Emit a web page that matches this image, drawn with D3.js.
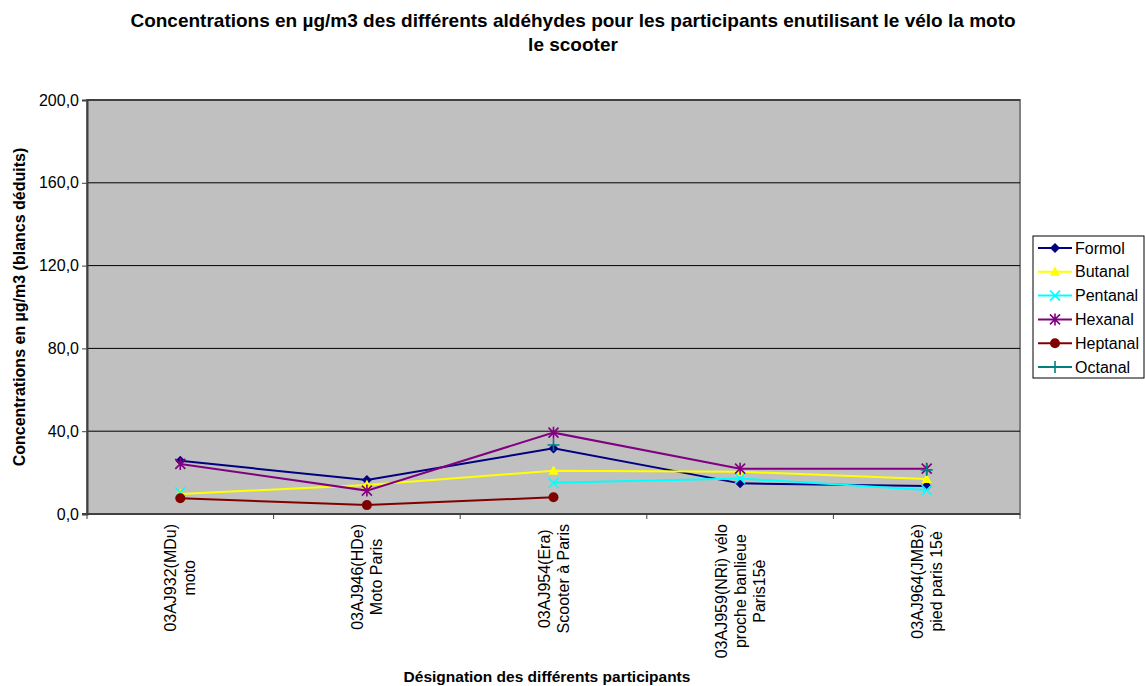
<!DOCTYPE html>
<html>
<head>
<meta charset="utf-8">
<script src="https://cdn.jsdelivr.net/npm/d3@7"></script>
<style>
  body { margin: 0; background: #fff; }
  svg { font-family: Arial, "Liberation Sans", sans-serif; }
</style>
</head>
<body>
<svg id="chart" width="1145" height="686"></svg>
<script>
// categories (participants), each label broken into lines like the original
var categories = ['03AJ932', '03AJ946', '03AJ954', '03AJ959', '03AJ964'];
var categoryLines = [
  ['03AJ932(MDu)', 'moto'],
  ['03AJ946(HDe)', 'Moto Paris'],
  ['03AJ954(Era)', 'Scooter à Paris'],
  ['03AJ959(NRi) vélo', 'proche banlieue', 'Paris15è'],
  ['03AJ964(JMBè)', 'pied paris 15è']
];

// series values in µg/m3 (null = no value)
var formol   = [25.7, 16.4, 31.7, 14.8, 13.5];
var butanal  = [9.7, 14.0, 20.9, 20.4, 16.9];
var pentanal = [10.5, null, 15.1, 17.2, 11.6];
var hexanal  = [24.2, 11.3, 39.3, 21.9, 21.9];
var heptanal = [7.6, 4.3, 8.1, null, null];
var octanal  = [null, null, 33.3, null, 21.3];

var yTicks = [0, 40, 80, 120, 160, 200];

var series = [
  { name: 'Formol',   values: formol,   color: '#000080', marker: 'diamond' },
  { name: 'Butanal',  values: butanal,  color: '#FFFF00', marker: 'triangle' },
  { name: 'Pentanal', values: pentanal, color: '#00FFFF', marker: 'cross' },
  { name: 'Hexanal',  values: hexanal,  color: '#800080', marker: 'star' },
  { name: 'Heptanal', values: heptanal, color: '#800000', marker: 'circle' },
  { name: 'Octanal',  values: octanal,  color: '#008080', marker: 'plus' }
];

var plot = { left: 87, right: 1020, top: 100, bottom: 514 };

var svg = d3.select('#chart');

var x = d3.scaleBand().domain(categories).range([plot.left, plot.right]);
var y = d3.scaleLinear().domain([0, 200]).range([plot.bottom, plot.top]);

var frLocale = d3.formatLocale({ decimal: ',', thousands: ' ', grouping: [3], currency: ['', ' €'] });
var fmt = frLocale.format('.1f');

// title
var title = svg.append('text')
  .attr('text-anchor', 'middle')
  .style('font-size', '19px')
  .style('font-weight', 'bold');
title.append('tspan').attr('x', 573).attr('y', 27)
  .text('Concentrations en µg/m3 des différents aldéhydes pour les participants enutilisant le vélo la moto');
title.append('tspan').attr('x', 573).attr('y', 51).text('le scooter');

// plot background
svg.append('rect')
  .attr('x', plot.left).attr('y', plot.top)
  .attr('width', plot.right - plot.left).attr('height', plot.bottom - plot.top)
  .attr('fill', '#C0C0C0')
  .attr('stroke', '#808080').attr('stroke-width', 2);

// grid lines
svg.append('g').selectAll('line').data(yTicks.filter(function (d) { return d > 0; }))
  .enter().append('line')
  .attr('x1', plot.left).attr('x2', plot.right)
  .attr('y1', function (d) { return y(d); }).attr('y2', function (d) { return y(d); })
  .attr('stroke', '#000').attr('stroke-width', 1);

// y axis
var yAxis = svg.append('g')
  .attr('transform', 'translate(' + plot.left + ',0)')
  .call(d3.axisLeft(y).tickValues(yTicks).tickFormat(fmt).tickSize(5).tickPadding(3));
yAxis.select('.domain').attr('stroke', '#404040').attr('stroke-width', 2);
yAxis.selectAll('.tick line').attr('stroke', '#404040');
yAxis.selectAll('text').style('font-size', '16px').style('font-family', 'Arial, "Liberation Sans", sans-serif').attr('fill', '#000');

// x axis line + boundary ticks
svg.append('line')
  .attr('x1', plot.left - 5).attr('x2', plot.right)
  .attr('y1', plot.bottom).attr('y2', plot.bottom)
  .attr('stroke', '#404040').attr('stroke-width', 2);
var bounds = categories.map(function (c) { return x(c); }).concat([x(categories[categories.length - 1]) + x.bandwidth()]);
svg.append('g').selectAll('line').data(bounds).enter().append('line')
  .attr('x1', function (d) { return d; }).attr('x2', function (d) { return d; })
  .attr('y1', plot.bottom).attr('y2', plot.bottom + 5)
  .attr('stroke', '#404040');

// category labels, rotated, centred lines
var lineGap = 19;
var catLabel = svg.append('g').selectAll('text').data(categories).enter().append('text')
  .attr('transform', function (d) { return 'translate(' + (x(d) + x.bandwidth() / 2) + ',' + (plot.bottom + 10) + ') rotate(-90)'; })
  .attr('text-anchor', 'middle')
  .style('font-size', '16px');
catLabel.each(function (d, i) {
  var lines = categoryLines[i];
  var t = d3.select(this);
  lines.forEach(function (l, j) {
    t.append('tspan')
      .attr('y', (j - (lines.length - 1) / 2) * lineGap)
      .attr('dy', '0.35em')
      .text(l);
  });
  // lines are centred on each other, the block ends just below the axis
  var maxW = d3.max(t.selectAll('tspan').nodes(), function (n) { return n.getComputedTextLength(); });
  t.selectAll('tspan').attr('x', -maxW / 2);
});

// axis titles
svg.append('text')
  .attr('transform', 'translate(19,' + ((plot.top + plot.bottom) / 2) + ') rotate(-90)')
  .attr('text-anchor', 'middle')
  .attr('dy', '0.35em')
  .style('font-size', '16px').style('font-weight', 'bold')
  .text('Concentrations en µg/m3 (blancs déduits)');
svg.append('text')
  .attr('x', 547).attr('y', 682)
  .attr('text-anchor', 'middle')
  .style('font-size', '15.5px').style('font-weight', 'bold')
  .text('Désignation des différents participants');

// marker drawing
function drawMarker(g, type, color) {
  if (type === 'diamond') {
    g.append('path').attr('d', 'M0,-5L5,0L0,5L-5,0Z').attr('fill', color);
  } else if (type === 'triangle') {
    g.append('path').attr('d', 'M0,-5.5L5,4L-5,4Z').attr('fill', color);
  } else if (type === 'circle') {
    g.append('circle').attr('r', 5).attr('fill', color);
  } else if (type === 'cross') {
    g.append('path').attr('d', 'M-5,-5L5,5M-5,5L5,-5').attr('stroke', color).attr('stroke-width', 1.6);
  } else if (type === 'plus') {
    g.append('path').attr('d', 'M0,-6V6M-6,0H6').attr('stroke', color).attr('stroke-width', 1.6);
  } else if (type === 'star') {
    g.append('path').attr('d', 'M-5,-5L5,5M-5,5L5,-5M0,-6V6').attr('stroke', color).attr('stroke-width', 1.6);
  }
}

var line = d3.line()
  .defined(function (d) { return d != null; })
  .x(function (d, i) { return x(categories[i]) + x.bandwidth() / 2; })
  .y(function (d) { return y(d); });

var seriesG = svg.append('g').selectAll('g').data(series).enter().append('g');
seriesG.append('path')
  .attr('d', function (s) { return line(s.values); })
  .attr('fill', 'none')
  .attr('stroke', function (s) { return s.color; })
  .attr('stroke-width', 2);
seriesG.each(function (s) {
  var g = d3.select(this);
  s.values.forEach(function (v, i) {
    if (v == null) return;
    var m = g.append('g').attr('transform', 'translate(' + (x(categories[i]) + x.bandwidth() / 2) + ',' + y(v) + ')');
    drawMarker(m, s.marker, s.color);
  });
});

// legend
var legend = svg.append('g').attr('transform', 'translate(1033,236)');
legend.append('rect')
  .attr('x', 0).attr('y', 0).attr('width', 111).attr('height', 142)
  .attr('fill', '#fff').attr('stroke', '#000').attr('stroke-width', 1);
var item = legend.selectAll('.item').data(series).enter().append('g')
  .attr('class', 'item')
  .attr('transform', function (d, i) { return 'translate(0,' + (12 + i * 23.8) + ')'; });
item.append('line')
  .attr('x1', 5).attr('x2', 39).attr('y1', 0).attr('y2', 0)
  .attr('stroke', function (d) { return d.color; }).attr('stroke-width', 2);
item.each(function (d) {
  var m = d3.select(this).append('g').attr('transform', 'translate(22,0)');
  drawMarker(m, d.marker, d.color);
});
item.append('text')
  .attr('x', 42).attr('y', 0).attr('dy', '0.35em')
  .style('font-size', '16px')
  .text(function (d) { return d.name; });
</script>
</body>
</html>
